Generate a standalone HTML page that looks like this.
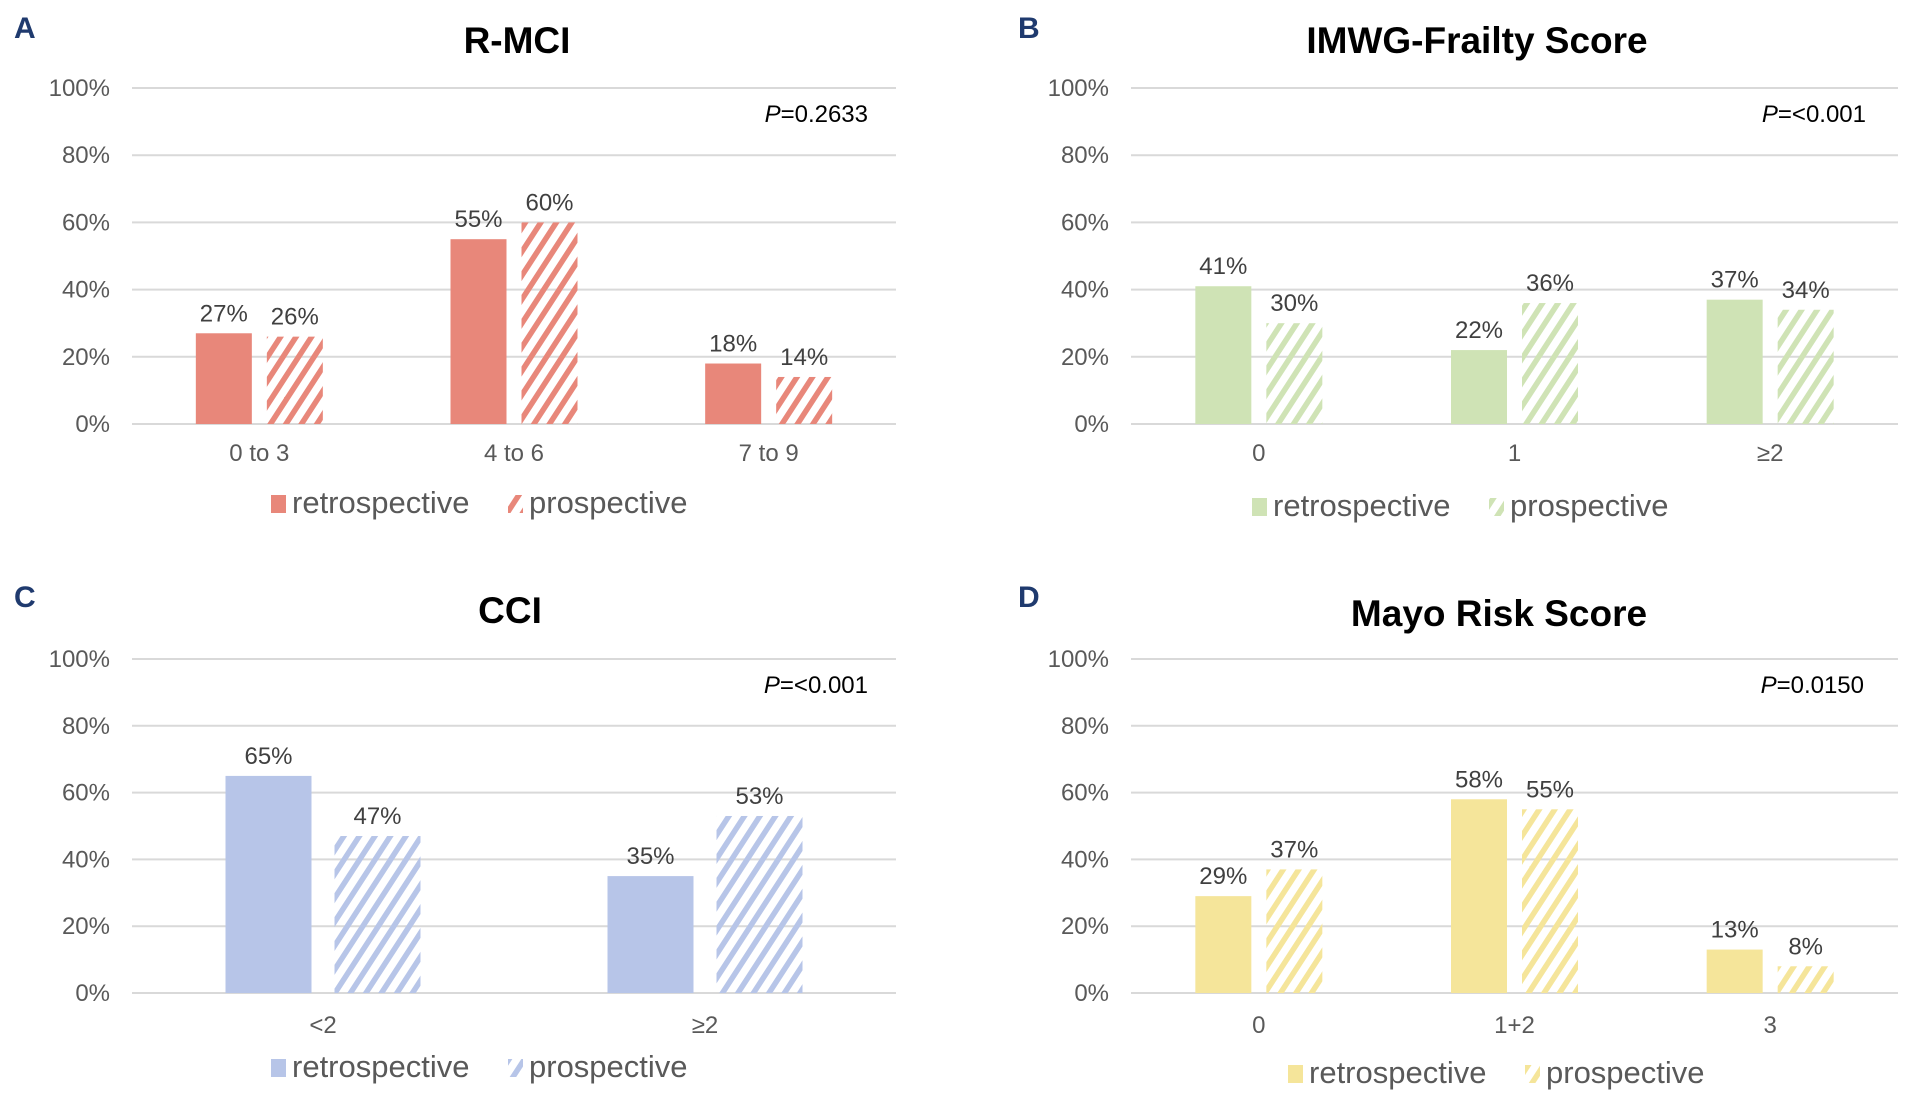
<!DOCTYPE html>
<html><head><meta charset="utf-8"><style>
html,body{margin:0;padding:0;background:#fff;}
svg{display:block;font-family:"Liberation Sans",sans-serif;}
</style></head><body>
<svg id="chart" width="1907" height="1100" viewBox="0 0 1907 1100" xmlns="http://www.w3.org/2000/svg">
<defs>
<pattern id="h-red" width="13" height="13" patternUnits="userSpaceOnUse" patternTransform="rotate(33)"><rect width="5.5" height="13" fill="#e8877a"/></pattern>
<pattern id="h-green" width="13" height="13" patternUnits="userSpaceOnUse" patternTransform="rotate(33)"><rect width="5.5" height="13" fill="#cfe3b5"/></pattern>
<pattern id="h-blue" width="13" height="13" patternUnits="userSpaceOnUse" patternTransform="rotate(33)"><rect width="5.5" height="13" fill="#b7c5e8"/></pattern>
<pattern id="h-yellow" width="13" height="13" patternUnits="userSpaceOnUse" patternTransform="rotate(33)"><rect width="5.5" height="13" fill="#f5e59a"/></pattern>
</defs>
</svg>
<script>
const yTicks = [0, 20, 40, 60, 80, 100];
const catsA = ["0 to 3", "4 to 6", "7 to 9"];
const retroA = [27, 55, 18];
const prosA = [26, 60, 14];
const catsB = ["0", "1", "\u22652"];
const retroB = [41, 22, 37];
const prosB = [30, 36, 34];
const catsC = ["<2", "\u22652"];
const retroC = [65, 35];
const prosC = [47, 53];
const catsD = ["0", "1+2", "3"];
const retroD = [29, 58, 13];
const prosD = [37, 55, 8];

const svg = document.getElementById('chart');
const NS = 'http://www.w3.org/2000/svg';
function mk(tag, attrs, text) {
  const e = document.createElementNS(NS, tag);
  for (const k in attrs) e.setAttribute(k, attrs[k]);
  if (text !== undefined) e.textContent = text;
  svg.appendChild(e);
  return e;
}

const panels = [
  {key:'a', letter:'A', title:'R-MCI', p:'=0.2633', cats:catsA, retro:retroA, pros:prosA, color:'#e8877a', hatch:'h-red',
   x0:132, x1:896, yTop:88, yBot:424, lx:14, ly:38, tx:517, ty:53, px:868, py:122, cy:461, legY:513, legX:271, barW:56, gap:15},
  {key:'b', letter:'B', title:'IMWG-Frailty Score', p:'=<0.001', cats:catsB, retro:retroB, pros:prosB, color:'#cfe3b5', hatch:'h-green',
   x0:1131, x1:1898, yTop:88, yBot:424, lx:1018, ly:38, tx:1477, ty:53, px:1866, py:122, cy:461, legY:516, legX:1252, barW:56, gap:15},
  {key:'c', letter:'C', title:'CCI', p:'=<0.001', cats:catsC, retro:retroC, pros:prosC, color:'#b7c5e8', hatch:'h-blue',
   x0:132, x1:896, yTop:659, yBot:993, lx:14, ly:607, tx:510, ty:623, px:868, py:693, cy:1033, legY:1077, legX:271, barW:86, gap:23},
  {key:'d', letter:'D', title:'Mayo Risk Score', p:'=0.0150', cats:catsD, retro:retroD, pros:prosD, color:'#f5e59a', hatch:'h-yellow',
   x0:1131, x1:1898, yTop:659, yBot:993, lx:1018, ly:607, tx:1499, ty:626, px:1864, py:693, cy:1033, legY:1083, legX:1288, barW:56, gap:15}
];

panels.forEach(P => {
  const yScale = v => P.yBot - (v / 100) * (P.yBot - P.yTop);
  const band = (P.x1 - P.x0) / P.cats.length;
  const xCenter = i => P.x0 + band * (i + 0.5);

  let t = mk('text', {x:P.lx, y:P.ly, 'font-size':30, 'font-weight':'bold', fill:'#1f3a6e'}, P.letter);
  
  

  t = mk('text', {x:P.tx, y:P.ty, 'font-size':37, 'font-weight':'bold', 'text-anchor':'middle', fill:'#000'}, P.title);
  
  

  yTicks.forEach(v => {
    const y = yScale(v);
    const g = mk('line', {x1:P.x0, x2:P.x1, y1:y, y2:y, stroke:'#d9d9d9', 'stroke-width':2});
    
    
    const lb = mk('text', {x:P.x0 - 22, y:y + 8, 'font-size':24, 'text-anchor':'end', fill:'#595959'}, v + '%');
    
    
  });

  const pt = mk('text', {x:P.px, y:P.py, 'font-size':24, 'text-anchor':'end', fill:'#000'});
  
  
  const ts = document.createElementNS(NS, 'tspan'); ts.setAttribute('font-style', 'italic'); ts.textContent = 'P';
  pt.appendChild(ts);
  pt.appendChild(document.createTextNode(P.p));

  P.cats.forEach((c, i) => {
    const cx = xCenter(i);
    const rx = cx - P.gap / 2 - P.barW, px = cx + P.gap / 2;
    const rv = P.retro[i], pv = P.pros[i];
    const r1 = mk('rect', {x:rx, y:yScale(rv), width:P.barW, height:yScale(0) - yScale(rv), fill:P.color});
    
    
    const r2 = mk('rect', {x:px, y:yScale(pv), width:P.barW, height:yScale(0) - yScale(pv), fill:'url(#' + P.hatch + ')'});
    
    
    const l1 = mk('text', {x:rx + P.barW / 2, y:yScale(rv) - 12, 'font-size':24, 'text-anchor':'middle', fill:'#404040'}, rv + '%');
    
    
    const l2 = mk('text', {x:px + P.barW / 2, y:yScale(pv) - 12, 'font-size':24, 'text-anchor':'middle', fill:'#404040'}, pv + '%');
    
    
    const cl = mk('text', {x:cx, y:P.cy, 'font-size':24, 'text-anchor':'middle', fill:'#595959'}, c);
    
    
  });

  const s1 = mk('rect', {x:P.legX, y:P.legY - 18, width:15, height:18, fill:P.color});
  
  
  const e1 = mk('text', {x:P.legX + 21, y:P.legY, 'font-size':31, fill:'#595959'}, 'retrospective');
  
  
  const s2 = mk('rect', {x:P.legX + 237, y:P.legY - 18, width:15, height:18, fill:'url(#' + P.hatch + ')'});
  
  
  const e2 = mk('text', {x:P.legX + 258, y:P.legY, 'font-size':31, fill:'#595959'}, 'prospective');
  
  
});
</script>
</body></html>
